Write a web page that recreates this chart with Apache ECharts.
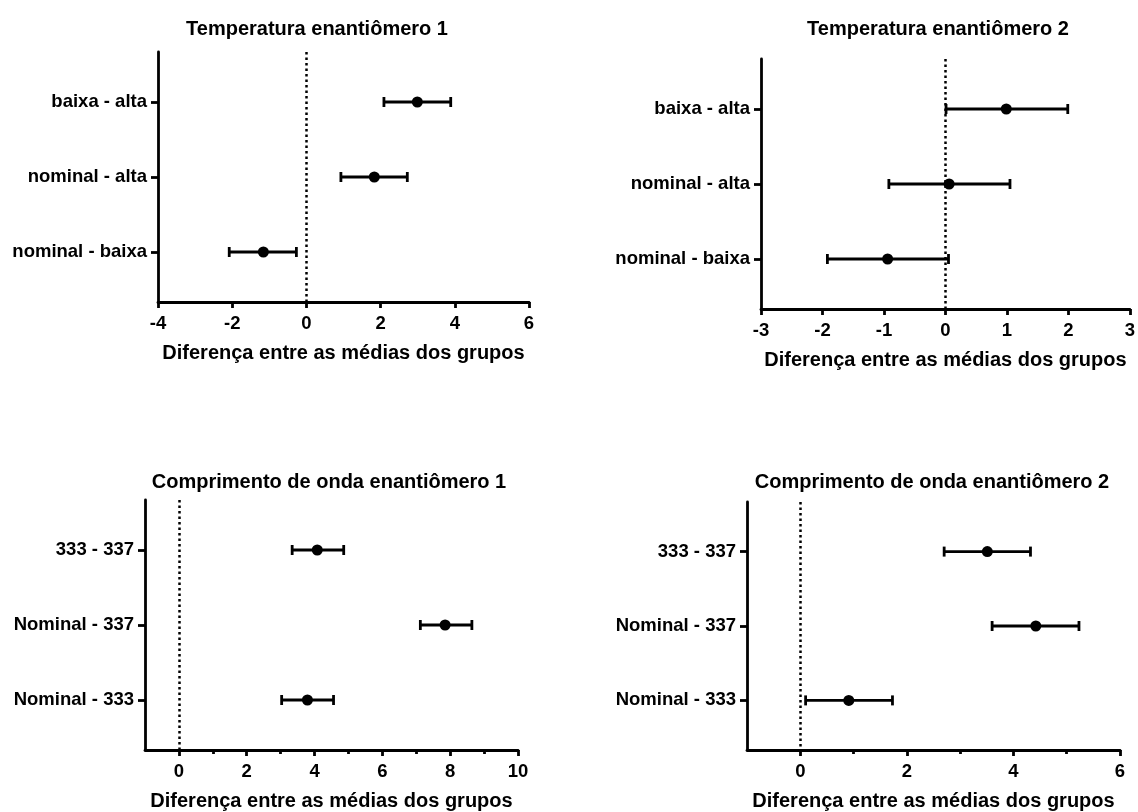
<!DOCTYPE html>
<html>
<head>
<meta charset="utf-8">
<script src="https://cdn.jsdelivr.net/npm/echarts@6/dist/echarts.min.js"></script>
<style>html,body{margin:0;padding:0;background:#fff}#c{width:1138px;height:812px}</style>
</head>
<body>
<div id="c"></div>
<script>
// ---- Data ----
const titles = ['Temperatura enantiômero 1', 'Temperatura enantiômero 2', 'Comprimento de onda enantiômero 1', 'Comprimento de onda enantiômero 2'];
const axisTitle = 'Diferença entre as médias dos grupos';

const tempCategories = ['baixa - alta', 'nominal - alta', 'nominal - baixa'];
const waveCategories = ['333 - 337', 'Nominal - 337', 'Nominal - 333'];

const temp1Mean = [2.99, 1.83, -1.16];
const temp1Lower = [2.09, 0.93, -2.08];
const temp1Upper = [3.89, 2.72, -0.27];

const temp2Mean = [0.99, 0.06, -0.94];
const temp2Lower = [0.01, -0.92, -1.92];
const temp2Upper = [1.99, 1.05, 0.05];

const wave1Mean = [4.08, 7.85, 3.79];
const wave1Lower = [3.34, 7.12, 3.03];
const wave1Upper = [4.86, 8.64, 4.56];

const wave2Mean = [3.51, 4.42, 0.91];
const wave2Lower = [2.70, 3.60, 0.10];
const wave2Upper = [4.32, 5.23, 1.73];

const temp1Ticks = [-4, -2, 0, 2, 4, 6];
const temp2Ticks = [-3, -2, -1, 0, 1, 2, 3];
const wave1Ticks = [0, 2, 4, 6, 8, 10];
const wave1Minor = [1, 3, 5, 7, 9];
const wave2Ticks = [0, 2, 4, 6];
const wave2Minor = [1, 3, 5];

// ---- Layout / style ----
const FONT = '"Liberation Sans", Arial, Helvetica, sans-serif';
const panels = [
  { cats: tempCategories, mean: temp1Mean, lo: temp1Lower, hi: temp1Upper, xmin: -4, xmax: 6, ticks: temp1Ticks, minor: null,
    grid: { left: 158, top: 52, width: 371, height: 250 }, titleX: 312, titleY: 14 },
  { cats: tempCategories, mean: temp2Mean, lo: temp2Lower, hi: temp2Upper, xmin: -3, xmax: 3, ticks: temp2Ticks, minor: null,
    grid: { left: 761, top: 59, width: 373, height: 250 }, titleX: 933, titleY: 14 },
  { cats: waveCategories, mean: wave1Mean, lo: wave1Lower, hi: wave1Upper, xmin: -1, xmax: 10, ticks: wave1Ticks, minor: wave1Minor,
    grid: { left: 145, top: 500, width: 373, height: 250 }, titleX: 324, titleY: 467 },
  { cats: waveCategories, mean: wave2Mean, lo: wave2Lower, hi: wave2Upper, xmin: -1, xmax: 6, ticks: wave2Ticks, minor: wave2Minor,
    grid: { left: 747, top: 502, width: 373, height: 250 }, titleX: 927, titleY: 467 }
];

const black = '#000';
const lw = 2.8;
const grid = [], xAxis = [], yAxis = [], series = [], title = [];

panels.forEach((p, i) => {
  grid.push(Object.assign({ containLabel: false }, p.grid));
  title.push({
    text: titles[i], left: p.titleX, top: p.titleY, textAlign: 'center',
    textStyle: { fontFamily: FONT, fontWeight: 'bold', fontSize: 20, color: black }
  });
  const positions = p.cats.map((_, k) => k + 1);
  const mainX = xAxis.length;
  xAxis.push({
    gridIndex: i, type: 'value', position: 'bottom', min: p.xmin, max: p.xmax,
    name: axisTitle, nameLocation: 'middle', nameGap: 41,
    nameTextStyle: { fontFamily: FONT, fontWeight: 'bold', fontSize: 20, color: black },
    axisLine: { show: true, onZero: false, lineStyle: { color: black, width: lw } },
    axisTick: { show: true, customValues: p.ticks, length: 6, lineStyle: { color: black, width: lw } },
    axisLabel: { customValues: p.ticks, margin: 12, fontFamily: FONT, fontWeight: 'bold', fontSize: 18.5, color: black },
    splitLine: { show: false }
  });
  if (p.minor) {
    xAxis.push({
      gridIndex: i, type: 'value', position: 'bottom', offset: 0, min: p.xmin, max: p.xmax,
      axisLine: { show: false, onZero: false },
      axisTick: { show: true, customValues: p.minor, length: 4, lineStyle: { color: black, width: lw } },
      axisLabel: { show: false }, splitLine: { show: false }
    });
  }
  yAxis.push({
    gridIndex: i, type: 'value', inverse: true, min: 1 / 3, max: 11 / 3,
    axisLine: { show: true, onZero: false, lineStyle: { color: black, width: lw } },
    axisTick: { show: true, customValues: positions, length: 7, lineStyle: { color: black, width: lw } },
    axisLabel: {
      customValues: positions, margin: 11, fontFamily: FONT, fontWeight: 'bold', fontSize: 18.5, color: black,
      formatter: v => p.cats[Math.round(v) - 1]
    },
    splitLine: { show: false }
  });
  series.push({
    type: 'custom', xAxisIndex: mainX, yAxisIndex: i,
    encode: { x: [0, 1], y: 2 },
    data: p.lo.map((l, k) => [l, p.hi[k], positions[k]]),
    renderItem: (params, api) => {
      const y = api.value(2);
      const a = api.coord([api.value(0), y]);
      const b = api.coord([api.value(1), y]);
      const c = 5;
      const style = { stroke: black, lineWidth: lw };
      return {
        type: 'group', children: [
          { type: 'line', shape: { x1: a[0], y1: a[1], x2: b[0], y2: b[1] }, style },
          { type: 'line', shape: { x1: a[0], y1: a[1] - c, x2: a[0], y2: a[1] + c }, style },
          { type: 'line', shape: { x1: b[0], y1: b[1] - c, x2: b[0], y2: b[1] + c }, style }
        ]
      };
    },
    z: 2
  });
  series.push({
    type: 'scatter', xAxisIndex: mainX, yAxisIndex: i,
    data: p.mean.map((m, k) => [m, positions[k]]),
    symbol: 'circle', symbolSize: 11,
    itemStyle: { color: black, opacity: 1 },
    markLine: {
      silent: true, symbol: ['none', 'none'], label: { show: false },
      lineStyle: { color: black, width: 2.5, type: [2.5, 3] },
      data: [{ xAxis: 0 }]
    },
    z: 3
  });
});

const chart = echarts.init(document.getElementById('c'), null, { renderer: 'canvas' });
chart.setOption({ animation: false, backgroundColor: '#fff', title, grid, xAxis, yAxis, series });
</script>
</body>
</html>
